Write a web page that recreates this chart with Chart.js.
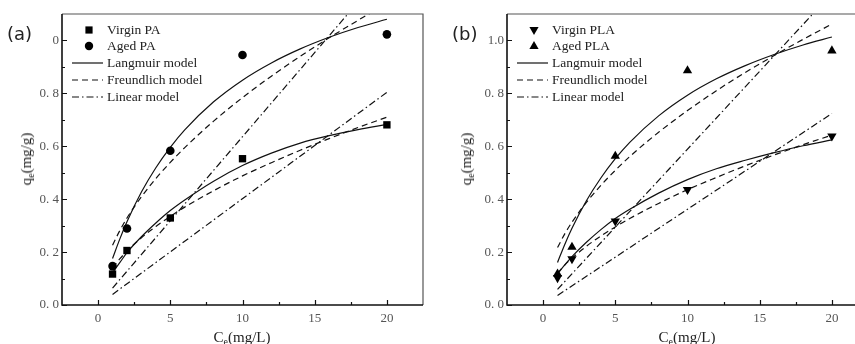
<!DOCTYPE html>
<html><head><meta charset="utf-8">
<script src="https://cdn.jsdelivr.net/npm/chart.js@4.4.1/dist/chart.umd.min.js"></script>
<style>
html,body{margin:0;padding:0;background:#fff;overflow:hidden;width:855px;height:344px;position:relative}
canvas{position:absolute;top:0}
#ca{left:0}
#cb{left:445px}
.plab{position:absolute;font-family:'DejaVu Sans',sans-serif;font-size:18px;line-height:20px;color:#222}
.xt{position:absolute;font-family:'Liberation Serif',serif;font-size:15px;line-height:16px;color:#222;white-space:nowrap;transform:translateX(-50%)}
.yt{position:absolute;font-family:'Liberation Serif',serif;font-size:15px;line-height:16px;color:#222;white-space:nowrap;transform:translate(-50%,-50%) rotate(-90deg)}
sub{font-size:10px;vertical-align:-3px;line-height:0}
</style></head><body>
<canvas id="ca" width="430" height="344"></canvas>
<canvas id="cb" width="430" height="344"></canvas>
<div class="plab" style="left:7px;top:24px">(a)</div>
<div class="plab" style="left:452px;top:24px">(b)</div>
<div class="xt" style="left:242px;top:329px">C<sub>e</sub>(mg/L)</div>
<div class="xt" style="left:687px;top:329px">C<sub>e</sub>(mg/L)</div>
<div class="yt" style="left:26px;top:159px">q<sub>e</sub>(mg/g)</div>
<div class="yt" style="left:466px;top:159px">q<sub>e</sub>(mg/g)</div>
<script>
// ---- data ----
const dataC = [1, 2, 5, 10, 20];
const virginPA = [0.117, 0.206, 0.329, 0.553, 0.681];
const agedPA = [0.147, 0.289, 0.583, 0.945, 1.023];
const virginPLA = [0.103, 0.174, 0.317, 0.436, 0.638];
const agedPLA = [0.118, 0.219, 0.563, 0.886, 0.961];

const fitC = [1, 1.5, 2, 3, 4, 5, 6, 8, 10, 12, 14, 16, 18, 20];
const langVirginPA = [0.122, 0.160, 0.198, 0.258, 0.310, 0.357, 0.397, 0.468, 0.527, 0.574, 0.612, 0.640, 0.663, 0.683];
const freuVirginPA = [0.140, 0.174, 0.204, 0.254, 0.297, 0.335, 0.370, 0.432, 0.488, 0.538, 0.585, 0.629, 0.671, 0.710];
const langAgedPA = [0.176, 0.249, 0.315, 0.427, 0.519, 0.596, 0.662, 0.768, 0.850, 0.915, 0.968, 1.012, 1.049, 1.080];
const freuAgedPA = [0.226, 0.281, 0.329, 0.409, 0.478, 0.539, 0.595, 0.695, 0.784, 0.865, 0.940, 1.010, 1.076, 1.140];
const langVirginPLA = [0.118, 0.152, 0.183, 0.237, 0.285, 0.327, 0.362, 0.423, 0.474, 0.515, 0.547, 0.576, 0.602, 0.624];
const freuVirginPLA = [0.120, 0.151, 0.177, 0.222, 0.261, 0.295, 0.327, 0.384, 0.436, 0.482, 0.526, 0.567, 0.606, 0.642];
const langAgedPLA = [0.161, 0.229, 0.290, 0.394, 0.480, 0.553, 0.615, 0.715, 0.793, 0.855, 0.905, 0.947, 0.983, 1.013];
const freuAgedPLA = [0.217, 0.269, 0.313, 0.388, 0.452, 0.509, 0.561, 0.653, 0.735, 0.810, 0.879, 0.943, 1.004, 1.062];

const linC = [1, 20];
const linVirginPA = [0.040, 0.804];
const linAgedPA = [0.064, 1.272];
const linVirginPLA = [0.036, 0.724];
const linAgedPLA = [0.059, 1.178];

const xTickVals = [0, 5, 10, 15, 20];
const xTickLabels = ['0', '5', '10', '15', '20'];
const xMinorVals = [2.5, 7.5, 12.5, 17.5];
const yTickVals = [0, 0.2, 0.4, 0.6, 0.8, 1.0];
const yTickLabelsA = ['0. 0', '0. 2', '0. 4', '0. 6', '0. 8', '0'];
const yTickLabelsB = ['0. 0', '0. 2', '0. 4', '0. 6', '0. 8', '1.0'];
const yMinorVals = [0.1, 0.3, 0.5, 0.7, 0.9];

const legendA = ['Virgin PA', 'Aged PA', 'Langmuir model', 'Freundlich model', 'Linear model'];
const legendB = ['Virgin PLA', 'Aged PLA', 'Langmuir model', 'Freundlich model', 'Linear model'];

// ---- helpers ----
const pts = (xs, ys) => xs.map((x, i) => ({x: x, y: ys[i]}));
const DASH = [6, 4];
const DASHDOT = [7, 3, 1.5, 3];

function drawMarker(ctx, kind, x, y) {
  ctx.save();
  ctx.fillStyle = '#000';
  ctx.beginPath();
  if (kind === 'square') { ctx.rect(x - 3.6, y - 3.6, 7.2, 7.2); }
  else if (kind === 'circle') { ctx.arc(x, y, 4.2, 0, Math.PI * 2); }
  else if (kind === 'up') { ctx.moveTo(x, y - 5); ctx.lineTo(x + 4.6, y + 3); ctx.lineTo(x - 4.6, y + 3); ctx.closePath(); }
  else { ctx.moveTo(x, y + 5); ctx.lineTo(x + 4.6, y - 3); ctx.lineTo(x - 4.6, y - 3); ctx.closePath(); }
  ctx.fill();
  ctx.restore();
}

function makePanel(id, o) {
  const frame = {
    id: 'frame',
    afterDraw(chart) {
      const ctx = chart.ctx, a = chart.chartArea;
      const xs = chart.scales.x, ys = chart.scales.y;
      ctx.save();
      ctx.strokeStyle = '#555'; ctx.lineWidth = 1.2;
      ctx.beginPath();
      ctx.moveTo(a.left, a.top); ctx.lineTo(a.right, a.top); ctx.lineTo(a.right, a.bottom);
      ctx.stroke();
      ctx.strokeStyle = '#111'; ctx.lineWidth = 1.6;
      ctx.beginPath();
      ctx.moveTo(a.left, a.top); ctx.lineTo(a.left, a.bottom); ctx.lineTo(a.right, a.bottom);
      ctx.stroke();
      ctx.lineWidth = 1.2;
      ctx.beginPath();
      xTickVals.forEach(v => { const p = Math.round(xs.getPixelForValue(v)) + 0.5; ctx.moveTo(p, a.bottom); ctx.lineTo(p, a.bottom - 5); });
      xMinorVals.forEach(v => { const p = Math.round(xs.getPixelForValue(v)) + 0.5; ctx.moveTo(p, a.bottom); ctx.lineTo(p, a.bottom - 3); });
      yTickVals.forEach(v => { const p = Math.round(ys.getPixelForValue(v)) + 0.5; ctx.moveTo(a.left, p); ctx.lineTo(a.left + 5, p); });
      yMinorVals.forEach(v => { const p = Math.round(ys.getPixelForValue(v)) + 0.5; ctx.moveTo(a.left, p); ctx.lineTo(a.left + 3, p); });
      ctx.stroke();
      // legend
      const rows = [16, 32, 49, 66, 83];
      ctx.font = '13.5px "Liberation Serif", serif';
      ctx.fillStyle = '#222';
      ctx.textBaseline = 'middle';
      ctx.textAlign = 'left';
      o.legend.forEach((t, i) => {
        const y = a.top + rows[i];
        if (i < 2) drawMarker(ctx, o.markers[i], a.left + 27, y);
        else {
          ctx.save();
          ctx.strokeStyle = '#111'; ctx.lineWidth = 1.2;
          ctx.setLineDash(i === 2 ? [] : (i === 3 ? DASH : DASHDOT));
          ctx.beginPath(); ctx.moveTo(a.left + 10, y); ctx.lineTo(a.left + 41, y); ctx.stroke();
          ctx.restore();
        }
        ctx.fillText(t, a.left + 45, y);
      });
      ctx.restore();
    }
  };
  const line = (data, dash) => ({type: 'line', data: data, borderColor: '#111', borderWidth: 1.2,
    borderDash: dash, pointRadius: 0, fill: false, cubicInterpolationMode: 'monotone', order: 2});
  const scat = (data, style, rot) => ({type: 'scatter', data: data, pointStyle: style, pointRotation: rot,
    pointRadius: style === 'rect' ? 5.2 : (style === 'circle' ? 4.3 : 5.4), backgroundColor: '#000', borderColor: '#000',
    borderWidth: 0, order: 1});
  new Chart(document.getElementById(id), {
    type: 'scatter',
    data: {datasets: [
      line(pts(fitC, o.langV), []), line(pts(fitC, o.langA), []),
      line(pts(fitC, o.freuV), DASH), line(pts(fitC, o.freuA), DASH),
      line(pts(linC, o.linV), DASHDOT), line(pts(linC, o.linA), DASHDOT),
      scat(pts(dataC, o.virgin), o.styles[0], o.rots[0]),
      scat(pts(dataC, o.aged), o.styles[1], o.rots[1])
    ]},
    options: {
      responsive: false, devicePixelRatio: 1, animation: false,
      layout: {padding: {top: 14, right: 7, left: 0, bottom: 0}},
      plugins: {legend: {display: false}, tooltip: {enabled: false}},
      scales: {
        x: {type: 'linear', min: -2.5, max: 22.5,
          afterBuildTicks: s => { s.ticks = xTickVals.map(v => ({value: v})); },
          afterFit: s => { s.height = 39; },
          grid: {display: false, drawTicks: false}, border: {display: false},
          ticks: {autoSkip: false, maxRotation: 0, padding: 6, color: '#555',
            font: {family: '"Liberation Serif", serif', size: 13}},
        },
        y: {type: 'linear', min: 0, max: 1.1,
          afterBuildTicks: s => { s.ticks = yTickVals.map(v => ({value: v})); },
          afterFit: s => { s.width = 62; },
          grid: {display: false, drawTicks: false}, border: {display: false},
          ticks: {padding: 3, color: '#555',
            font: {family: '"Liberation Serif", serif', size: 13},
            callback: v => { const i = yTickVals.findIndex(t => Math.abs(t - v) < 1e-6); return i >= 0 ? o.yLabels[i] : ''; }}}
      }
    },
    plugins: [frame]
  });
  // x tick label text comes from the array
  const ch = Chart.getChart(id);
  ch.options.scales.x.ticks.callback = v => { const i = xTickVals.indexOf(v); return i >= 0 ? xTickLabels[i] : ''; };
  ch.update('none');
}

makePanel('ca', {virgin: virginPA, aged: agedPA, langV: langVirginPA, langA: langAgedPA,
  freuV: freuVirginPA, freuA: freuAgedPA, linV: linVirginPA, linA: linAgedPA,
  styles: ['rect', 'circle'], rots: [0, 0], markers: ['square', 'circle'], legend: legendA, yLabels: yTickLabelsA});
makePanel('cb', {virgin: virginPLA, aged: agedPLA, langV: langVirginPLA, langA: langAgedPLA,
  freuV: freuVirginPLA, freuA: freuAgedPLA, linV: linVirginPLA, linA: linAgedPLA,
  styles: ['triangle', 'triangle'], rots: [180, 0], markers: ['down', 'up'], legend: legendB, yLabels: yTickLabelsB});
</script>
</body></html>
